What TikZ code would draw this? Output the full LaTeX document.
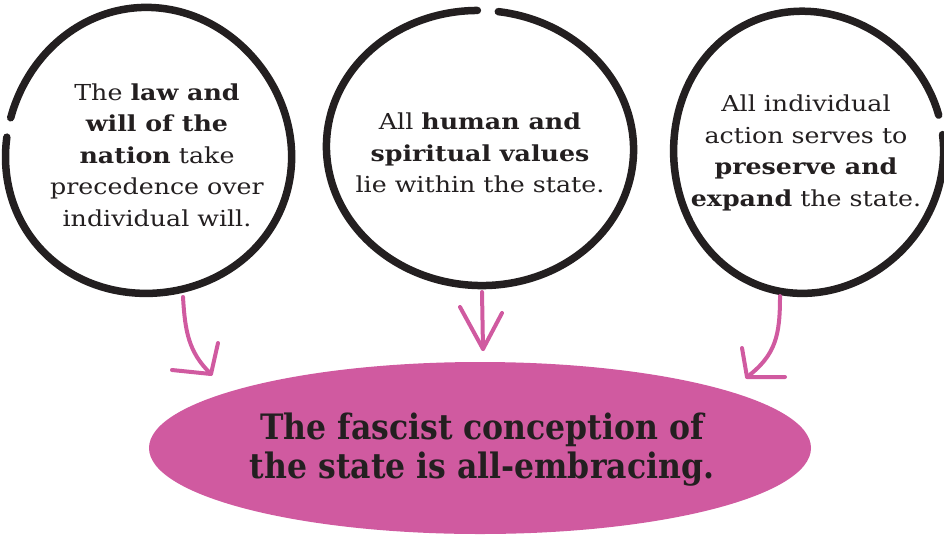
\documentclass[tikz,border=0pt]{standalone}
\usepackage{fontspec}
\usetikzlibrary{shapes.geometric}
\setmainfont[FakeStretch=1.15]{DejaVu Serif}
\newfontfamily\headfont{DejaVu Serif Condensed}
\definecolor{fpink}{RGB}{208,90,160}
\definecolor{ink}{RGB}{35,31,32}
\tikzset{
  ring/.style={draw=ink,line width=7.5pt,line cap=round},
  body/.style={align=center,text=ink,font=\fontsize{22}{31.5}\selectfont,inner sep=0pt},
  pinkarrow/.style={draw=fpink,line width=4pt,line cap=round,line join=round},
  headtext/.style={align=center,text=ink,font=\headfont\bfseries\fontsize{35}{39}\selectfont,inner sep=0pt}
}
\begin{document}
\begin{tikzpicture}[x=1pt,y=-1pt]
\useasboundingbox (0,0) rectangle (944,536);
% rings
\draw[ring] plot[domain=194:546,samples=120,smooth]
  ({148+143*cos(\x)*(1+0.012*sin(3*\x+20))},{152+143*sin(\x)*(1+0.012*sin(3*\x+20))});
\draw[ring] plot[domain=277:629,samples=120,smooth]
  ({480+152*cos(\x)*(1+0.012*sin(2*\x+60))},{148+139*sin(\x)*(1+0.012*sin(2*\x+60))});
\draw[ring] plot[domain=353:705,samples=120,smooth]
  ({807+135*cos(\x)*(1+0.012*sin(3*\x+100))},{152+141*sin(\x)*(1+0.012*sin(3*\x+100))});
% ellipse
\node[ellipse,fill=fpink,minimum width=662pt,minimum height=172pt,inner sep=0pt] (state) at (480,448) {};
\node[headtext] (statetext) at (482,450) {The fascist conception of\\the state is all-embracing.};
% texts
\node[body] (law) at (157,155) {The \textbf{law and}\\\textbf{will of the}\\\textbf{nation} take\\precedence over\\individual will.};
\node[body] (values) at (480,153) {All \textbf{human and}\\\textbf{spiritual values}\\lie within the state.};
\node[body] (action) at (806,153) {All individual\\action serves to\\\textbf{preserve and}\\\textbf{expand} the state.};
% arrows
\coordinate (a1s) at (183,297); \coordinate (a1t) at (211,374);
\coordinate (a1b1) at (172,370); \coordinate (a1b2) at (218,343);
\draw[pinkarrow] (a1s) .. controls (185,330) and (188,352) .. (a1t);
\draw[pinkarrow] (a1b1) -- (a1t) -- (a1b2);
\coordinate (a2s) at (482,292); \coordinate (a2t) at (483,349);
\coordinate (a2b1) at (460,307); \coordinate (a2b2) at (502,313);
\draw[pinkarrow] (a2s) -- (a2t);
\draw[pinkarrow] (a2b1) -- (a2t) -- (a2b2);
\coordinate (a3s) at (780,296); \coordinate (a3t) at (747,377);
\coordinate (a3b1) at (742,348); \coordinate (a3b2) at (785,377);
\draw[pinkarrow] (a3s) .. controls (780,335) and (776,355) .. (a3t);
\draw[pinkarrow] (a3b1) -- (a3t) -- (a3b2);
\end{tikzpicture}
\end{document}
